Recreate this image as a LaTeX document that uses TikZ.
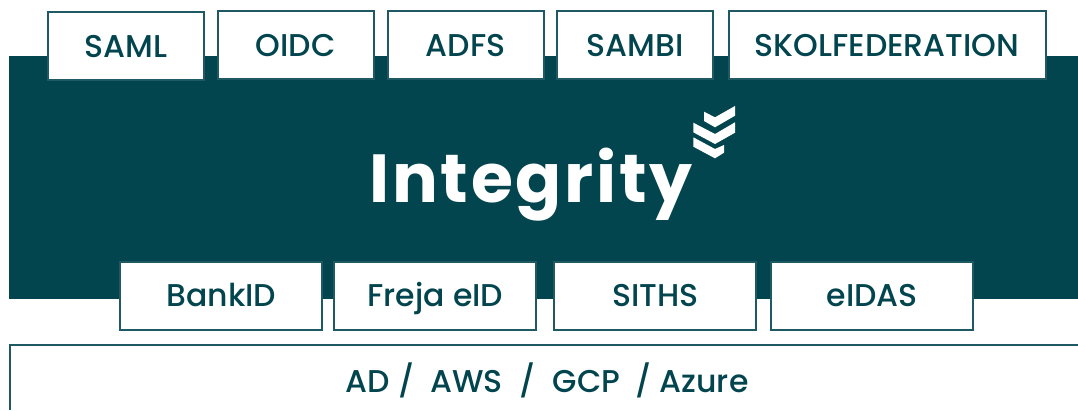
\documentclass[tikz,border=0pt]{standalone}
\usepackage{fontspec}
\setmainfont[UprightFont={* Medium}]{Poppins}
\newfontfamily\logofont[LetterSpace=4,UprightFont={* Bold}]{Poppins}
\definecolor{teal}{HTML}{03454F}
\definecolor{edge}{HTML}{1F5A64}
\tikzset{
  tagbox/.style={draw=edge,line width=2pt,fill=white,text=teal,inner sep=0pt,font=\fontsize{31.5}{34}\selectfont,anchor=center},
  toptag/.style={tagbox,minimum height=67.5pt,text height=24pt,text depth=0pt},
  lowtag/.style={tagbox,minimum width=202pt,minimum height=68pt,text height=21pt,text depth=0pt},
}
\begin{document}
\begin{tikzpicture}[x=1pt,y=-1pt]
\useasboundingbox (0,0) rectangle (1078,410);
\fill[white] (0,0) rectangle (1078,410);
\node[fill=teal,inner sep=0pt,minimum width=1069pt,minimum height=243pt] (band) at (543.5,177.5) {};
\node[toptag,minimum width=156pt] (saml) at (126,45.8) {SAML};
\node[toptag,minimum width=156pt] (oidc) at (295.5,44.8) {OIDC};
\node[toptag,minimum width=156pt] (adfs) at (465.5,44.8) {ADFS};
\node[toptag,minimum width=156pt] (sambi) at (635.3,44.8) {SAMBI};
\node[toptag,minimum width=317pt] (skol) at (887,44.8) {SKOLFEDERATION};
\node[lowtag] (bankid) at (221.3,296) {BankID};
\node[lowtag] (freja) at (435.3,296) {Freja eID};
\node[lowtag] (siths) at (655.3,296) {SITHS};
\node[lowtag] (eidas) at (872.3,296) {eIDAS};
\node[text=white,inner sep=0pt,font=\logofont\fontsize{68}{72}\selectfont] (integrity) at (531,185) {Integrity};
\begin{scope}[fill=white]
\fill (704,111.7) -- (715,117.3) -- (735,106) -- (735,115.7) -- (715,127.3) -- (704,121) -- cycle;
\fill (693.3,122.7) -- (715,134) -- (735,122.3) -- (735,132.7) -- (715,144) -- (693.3,132.3) -- cycle;
\fill (693.3,137.3) -- (715,149) -- (724,145) -- (724,152.7) -- (715,158.3) -- (693.3,146.7) -- cycle;
\end{scope}
\draw[edge,line width=2pt] (1078,345) -- (10,345) -- (10,410);
\node[text=teal,inner sep=0pt,font=\fontsize{31.5}{34}\selectfont] (hosts) at (547,380) {AD /\hspace{16pt}AWS\hspace{17pt}/\hspace{17pt}GCP\hspace{15pt}/ Azure};
\end{tikzpicture}
\end{document}
